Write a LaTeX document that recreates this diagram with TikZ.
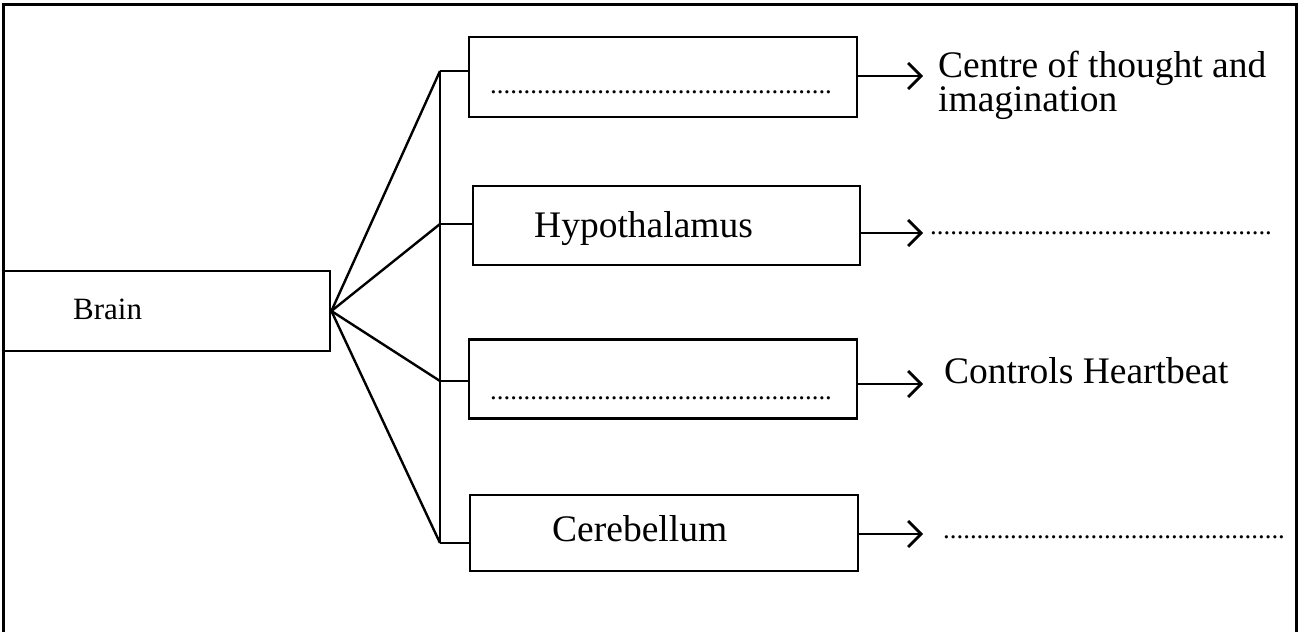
\documentclass[tikz,border=0pt]{standalone}
\usepackage{fontspec}
\setmainfont{Liberation Serif}
\usetikzlibrary{arrows.meta}
\newcommand{\blankdots}{\fontsize{26.8}{30}\selectfont\foreach\k in {1,...,51}{.}}

\begin{document}
\begin{tikzpicture}[x=1pt,y=-1pt,line width=2.4pt,
        part/.style={draw,line width=2.8pt,minimum width=388pt,minimum height=80pt,inner sep=0pt},
        word/.style={anchor=base west,inner sep=0pt,font=\fontsize{37.5}{31}\selectfont},
        tip/.style={-{Straight Barb[length=13pt,width=26pt]},line width=2.8pt}]
        \useasboundingbox (0,0) rectangle (1298,632);
        \draw [line width=3pt] (3,632) -- (3,4) -- (1296,4) -- (1296,632);
        % boxes
        \node [part,minimum width=327pt] (brain) at (166.5,311) {};
        \node [part] (cortex) at (663,77) {};
        \node [part,minimum width=387pt,minimum height=79pt] (hypo) at (666.5,225.5) {};
        \node [part,minimum height=79pt] (medulla) at (663,379) {};
        \node [part,minimum height=76pt] (cereb) at (664,533) {};
        % texts in the boxes
        \node [word,font=\fontsize{31}{36}\selectfont] (brainname) at (72,319) {Brain};
        \node [word] (cortexname) at (489,93.5) {\blankdots};
        \node [word] (hyponame) at (533,237) {Hypothalamus};
        \node [word] (medullaname) at (489,399.5) {\blankdots};
        \node [word] (cerebname) at (551,541) {Cerebellum};
        % fan and bar
        \coordinate (j1) at (440,71);
        \coordinate (j2) at (440,224);
        \coordinate (j3) at (440,381);
        \coordinate (j4) at (440,543);
        \foreach \j in {j1,j2,j3,j4} \draw (brain.east) -- (\j);
        \draw (j1) -- (j4);
        \draw (j1) -- (j1 -| cortex.west);
        \draw (j2) -- (j2 -| hypo.west);
        \draw (j3) -- (j3 -| medulla.west);
        \draw (j4) -- (j4 -| cereb.west);
        % arrows and what each part does
        \coordinate (a1) at (923,76);
        \coordinate (a2) at (923,233);
        \coordinate (a3) at (923,384);
        \coordinate (a4) at (923,534);
        \draw [tip] (a1 -| cortex.east) -- (a1);
        \draw [tip] (a2 -| hypo.east) -- (a2);
        \draw [tip] (a3 -| medulla.east) -- (a3);
        \draw [tip] (a4 -| cereb.east) -- (a4);
        \node [word,align=left] (cortexjob) at (937,111) {Centre of thought and\\imagination};
        \node [word] (hypojob) at (929,234.5) {\blankdots};
        \node [word] (medullajob) at (943,383) {Controls Heartbeat};
        \node [word] (cerebjob) at (942,538.5) {\blankdots};
    \end{tikzpicture}
\end{document}
